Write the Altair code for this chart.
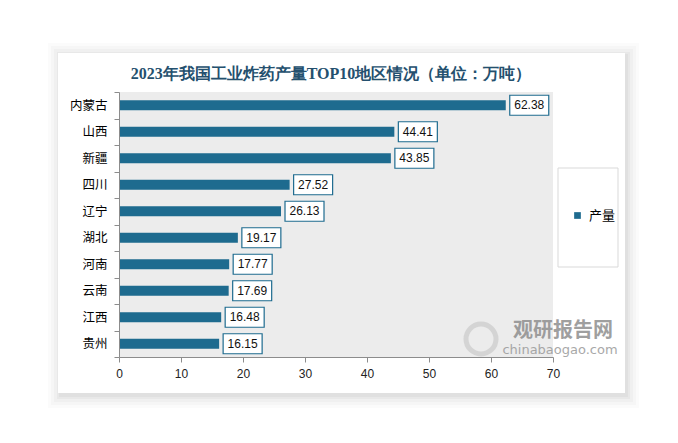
import altair as alt
import pandas as pd

# ---- data ----
regions = ["内蒙古", "山西", "新疆", "四川", "辽宁", "湖北", "河南", "云南", "江西", "贵州"]
values = [62.38, 44.41, 43.85, 27.52, 26.13, 19.17, 17.77, 17.69, 16.48, 16.15]
series_name = "产量"
x_ticks = [0, 10, 20, 30, 40, 50, 60, 70]
title_text = "2023年我国工业炸药产量TOP10地区情况（单位：万吨）"
watermark_cn = "观研报告网"
watermark_en = "chinabaogao.com"

df = pd.DataFrame({"region": regions, "value": values,
                   "series": [series_name] * len(regions)})
one = pd.DataFrame({"k": [0]})

W, H = 434, 265
BAR = "#1e6b8f"
CJK = "Noto Sans CJK SC"

y_enc = alt.Y(
    "region:N", sort=regions, title=None,
    scale=alt.Scale(paddingInner=0, paddingOuter=0),
    axis=alt.Axis(tickBand="extent", labelFontSize=12.5, labelColor="#000000",
                  labelFont=CJK, labelPadding=7, tickSize=5,
                  domainColor="#8c8c8c", tickColor="#8c8c8c", zindex=2),
)
x_enc = alt.X(
    "value:Q", title=None,
    scale=alt.Scale(domain=[0, 70], nice=False),
    axis=alt.Axis(values=x_ticks, grid=False, labelFontSize=12,
                  labelColor="#222222", labelFont="Liberation Sans",
                  labelPadding=6, tickSize=5, domainColor="#8c8c8c",
                  tickColor="#8c8c8c", labelFlush=False, zindex=2),
)

# panel (relative to plot origin)
PX1, PX2, PY1, PY2 = -61, 506, -39, 301

layers = []
# soft shadow
for e, op in [(12, 0.015), (9, 0.02), (6, 0.025), (3, 0.03), (1, 0.03)]:
    layers.append(
        alt.Chart(one).mark_rect(fill="#000000", opacity=op).encode(
            x=alt.value(PX1 - e + 2), x2=alt.value(PX2 + e + 2),
            y=alt.value(PY1 - e + 2), y2=alt.value(PY2 + e + 3))
    )
# white panel
layers.append(
    alt.Chart(one).mark_rect(fill="#ffffff").encode(
        x=alt.value(PX1), x2=alt.value(PX2), y=alt.value(PY1), y2=alt.value(PY2))
)
# plot background (hatched look)
layers.append(
    alt.Chart(one).mark_rect(fill="#ececec").encode(
        x=alt.value(0), x2=alt.value(W), y=alt.value(0), y2=alt.value(H))
)
# legend box
layers.append(
    alt.Chart(one).mark_rect(fill="#ffffff", stroke="#d9d9d9", strokeWidth=1).encode(
        x=alt.value(439), x2=alt.value(499), y=alt.value(76), y2=alt.value(175))
)
# title
layers.append(
    alt.Chart(one).mark_text(text=title_text, font="Liberation Serif", fontSize=16,
                             fontWeight="bold", color="#24506e",
                             align="center", baseline="middle").encode(
        x=alt.value(212), y=alt.value(-18))
)
# watermark
layers.append(
    alt.Chart(one).mark_point(shape="circle", size=900, filled=False,
                              stroke="#cfcfcf", strokeWidth=5, opacity=0.8).encode(
        x=alt.value(362), y=alt.value(247))
)
layers.append(
    alt.Chart(one).mark_text(text=watermark_cn, font=CJK, fontSize=20,
                             fontWeight="bold", color="#8f8f8f", opacity=0.85,
                             align="center", baseline="middle").encode(
        x=alt.value(444), y=alt.value(239))
)
layers.append(
    alt.Chart(one).mark_text(text=watermark_en, font="DejaVu Sans", fontSize=13,
                             color="#9a9a9a", opacity=0.85,
                             align="center", baseline="middle").encode(
        x=alt.value(441), y=alt.value(258))
)

base = alt.Chart(df)
bars = base.mark_bar(size=10).encode(
    y=y_enc, x=x_enc,
    color=alt.Color("series:N", scale=alt.Scale(range=[BAR]),
                    legend=alt.Legend(title=None, orient="none", legendX=452,
                                      legendY=117, symbolType="square",
                                      symbolSize=45, symbolStrokeWidth=0,
                                      labelFontSize=13, labelFont=CJK,
                                      labelColor="#000000", labelOffset=5,
                                      padding=0, zindex=1)),
)
boxes = base.mark_bar(size=20, fill="#ffffff", stroke=BAR, strokeWidth=1.2,
                      xOffset=4, x2Offset=43).encode(
    y=alt.Y("region:N", sort=regions), x="value:Q", x2="value:Q")
labels = base.mark_text(align="center", baseline="middle", dx=23.5,
                        fontSize=12, font="Liberation Sans",
                        color="#111111").encode(
    y=alt.Y("region:N", sort=regions), x="value:Q",
    text=alt.Text("value:Q", format=".2f"))

layers += [bars, boxes, labels]

chart = alt.layer(*layers).properties(
    width=W, height=H,
    autosize=alt.AutoSizeParams(type="none"),
    padding={"left": 119, "top": 92, "right": 125, "bottom": 86},
).configure_view(stroke=None).configure(background="#ffffff")

chart.save("out.html", embed_options={"renderer": "svg", "actions": False})
